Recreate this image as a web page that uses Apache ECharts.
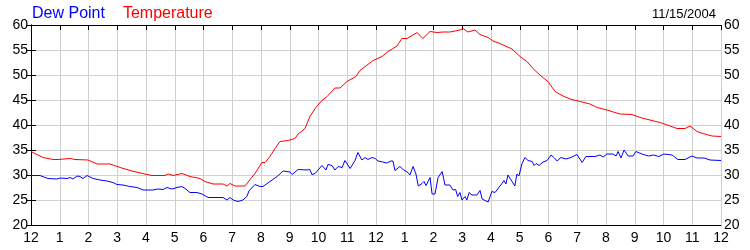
<!DOCTYPE html>
<html>
<head>
<meta charset="utf-8">
<script src="https://cdn.jsdelivr.net/npm/echarts@6/dist/echarts.min.js"></script>
<style>
html,body{margin:0;padding:0;background:#fff;}
#chart{width:750px;height:250px;}
</style>
</head>
<body>
<div id="chart"></div>
<script>
var hourLabels = ['12','1','2','3','4','5','6','7','8','9','10','11','12','1','2','3','4','5','6','7','8','9','10','11','12'];
var dateLabel = '11/15/2004';

var tempHours = [0.00,0.42,0.77,0.94,1.36,1.53,1.98,2.30,2.75,3.10,3.51,4.03,4.21,4.66,4.77,4.94,5.25,5.53,5.88,6.05,6.33,6.68,6.82,6.92,7.10,7.44,7.58,7.79,8.03,8.14,8.31,8.49,8.66,8.94,9.18,9.29,9.53,9.70,9.91,10.12,10.30,10.57,10.75,10.99,11.30,11.44,11.90,12.21,12.42,12.73,12.90,13.08,13.43,13.63,13.88,14.12,14.33,14.57,14.92,15.03,15.20,15.44,15.62,15.90,16.07,16.31,16.73,17.01,17.25,17.46,17.70,17.98,18.23,18.47,18.75,19.10,19.44,19.69,20.03,20.31,20.49,20.90,21.25,21.53,21.88,22.23,22.47,22.75,22.92,23.17,23.37,23.69,24.00];
var tempValues = [34.7,33.5,33.1,33.1,33.3,33.1,33.0,32.2,32.2,31.5,30.8,30.1,29.9,29.9,30.2,29.9,30.3,29.7,29.3,28.7,28.2,28.2,27.8,28.3,27.8,27.8,28.8,30.3,32.5,32.5,33.7,35.3,36.7,36.9,37.3,38.2,39.3,41.7,43.5,44.9,45.7,47.4,47.4,48.7,49.7,50.9,52.9,53.7,54.7,55.8,57.3,57.3,58.5,57.3,58.7,58.5,58.6,58.6,59.0,59.3,58.6,59.0,58.1,57.5,56.8,56.3,55.2,53.7,52.7,51.3,50.0,48.7,46.7,45.9,45.2,44.7,44.2,43.5,43.0,42.5,42.2,42.1,41.4,41.0,40.5,39.8,39.3,39.3,39.8,38.7,38.3,37.8,37.7];

var dewHours = [0.00,0.31,0.59,0.90,1.01,1.25,1.36,1.46,1.60,1.70,1.81,1.95,2.16,2.40,2.64,2.85,2.99,3.20,3.44,3.69,3.90,4.24,4.42,4.59,4.73,4.90,5.08,5.25,5.36,5.53,5.77,5.95,6.16,6.47,6.68,6.82,6.92,7.03,7.20,7.37,7.51,7.58,7.79,7.97,8.07,8.31,8.56,8.77,9.01,9.08,9.29,9.60,9.70,9.77,9.88,10.12,10.26,10.33,10.47,10.57,10.68,10.82,10.92,11.10,11.27,11.37,11.51,11.62,11.72,11.86,11.97,12.07,12.24,12.38,12.52,12.59,12.66,12.83,12.94,13.11,13.18,13.29,13.39,13.47,13.60,13.67,13.74,13.81,13.88,13.95,14.05,14.16,14.30,14.40,14.57,14.68,14.77,14.84,14.92,14.99,15.10,15.16,15.24,15.34,15.51,15.62,15.69,15.90,16.03,16.14,16.38,16.45,16.52,16.59,16.73,16.83,16.90,16.97,17.08,17.18,17.29,17.43,17.50,17.57,17.67,17.81,17.95,18.09,18.19,18.30,18.43,18.61,18.78,18.99,19.17,19.30,19.62,19.79,19.90,20.03,20.24,20.35,20.42,20.52,20.63,20.77,20.94,21.04,21.25,21.48,21.65,21.84,22.01,22.30,22.50,22.75,22.99,23.17,23.41,23.62,24.00];
var dewValues = [29.9,29.9,29.3,29.2,29.4,29.3,29.5,29.2,29.8,29.7,29.3,29.9,29.3,29.0,28.8,28.5,28.1,28.0,27.7,27.5,27.0,27.0,27.2,27.1,27.5,27.2,27.5,27.7,27.3,26.5,26.5,26.2,25.5,25.5,25.5,25.0,25.5,25.0,24.7,25.0,25.7,26.8,28.1,27.7,27.7,28.7,29.7,30.8,30.6,30.1,31.1,31.0,31.1,30.1,30.3,31.9,31.0,32.1,31.9,31.0,31.7,31.5,32.9,31.3,32.9,34.5,33.0,33.5,33.1,33.5,33.3,32.8,32.6,32.4,32.8,32.8,30.9,31.7,31.1,30.5,30.0,31.7,30.2,27.8,28.3,28.7,27.9,28.7,29.5,26.2,26.2,29.5,30.7,28.0,28.0,27.0,27.1,25.7,26.5,25.0,25.7,25.0,26.5,26.0,26.0,26.9,25.2,24.6,26.7,26.5,28.3,28.9,28.2,30.0,28.7,27.8,30.2,29.8,32.3,33.5,32.9,32.7,31.9,32.3,31.9,32.6,32.9,34.0,33.5,32.8,33.5,33.2,33.5,34.1,32.5,33.7,33.7,34.0,33.6,34.2,34.2,33.8,34.7,33.4,35.0,33.8,33.8,34.7,34.2,33.8,34.0,33.7,34.2,34.0,33.1,33.1,33.8,33.4,33.4,33.0,32.9];

function zip(xs, ys) {
  var out = [];
  for (var i = 0; i < xs.length; i++) out.push([xs[i], ys[i]]);
  return out;
}

var chart = echarts.init(document.getElementById('chart'), null, {renderer: 'canvas'});
var font = 'Liberation Sans, Arial, sans-serif';
var yAxisCommon = {
  type: 'value', min: 20, max: 60, interval: 5,
  axisLine: {show: true, lineStyle: {color: '#000', width: 1}},
  axisTick: {show: true, inside: true, length: 5, lineStyle: {color: '#000'}},
  axisLabel: {color: '#000', fontSize: 14, fontFamily: font, margin: 3},
  splitLine: {show: false}
};
chart.setOption({
  animation: false,
  backgroundColor: '#fff',
  title: {
    text: dateLabel, right: 29, top: 3,
    textStyle: {fontSize: 13, fontWeight: 'normal', color: '#000', fontFamily: font}
  },
  legend: {
    left: 22, top: 1, itemWidth: 0, itemHeight: 0, itemGap: 13, icon: 'rect',
    selectedMode: false,
    textStyle: {fontSize: 16, fontFamily: font},
    data: [
      {name: 'Dew Point', textStyle: {color: '#0000ff'}},
      {name: 'Temperature', textStyle: {color: '#ff0000'}}
    ]
  },
  grid: {left: 31, right: 29, top: 25, bottom: 25, containLabel: false},
  xAxis: [
    {
      type: 'value', min: 0, max: 24, interval: 1, position: 'bottom',
      axisLine: {show: true, onZero: false, lineStyle: {color: '#000'}},
      axisTick: {show: false},
      axisLabel: {color: '#000', fontSize: 14, fontFamily: font, margin: 6,
        formatter: function (v) { return hourLabels[Math.round(v)]; }},
      splitLine: {show: true, lineStyle: {color: '#d0d0d0', width: 1}}
    },
    {
      type: 'value', min: 0, max: 24, interval: 1, position: 'top',
      axisLine: {show: true, onZero: false, lineStyle: {color: '#000'}},
      axisTick: {show: true, inside: true, length: 5, lineStyle: {color: '#000'}},
      axisLabel: {show: false},
      splitLine: {show: false}
    }
  ],
  yAxis: [
    Object.assign({}, yAxisCommon, {position: 'left',
      splitLine: {show: true, lineStyle: {color: '#d0d0d0', width: 1}}}),
    Object.assign({}, yAxisCommon, {position: 'right'})
  ],
  series: [
    {
      name: 'Dew Point', type: 'line', data: zip(dewHours, dewValues),
      showSymbol: false, symbol: 'none',
      lineStyle: {color: '#0000ff', width: 1}, itemStyle: {color: '#0000ff'}
    },
    {
      name: 'Temperature', type: 'line', data: zip(tempHours, tempValues),
      showSymbol: false, symbol: 'none',
      lineStyle: {color: '#ff0000', width: 1}, itemStyle: {color: '#ff0000'}
    }
  ]
});
</script>
</body>
</html>
